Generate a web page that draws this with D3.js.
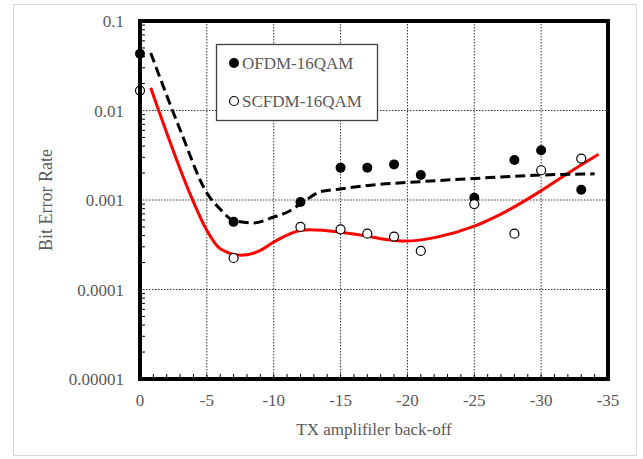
<!DOCTYPE html>
<html>
<head>
<meta charset="utf-8">
<script src="https://cdn.jsdelivr.net/npm/d3@7"></script>
<style>
  body { margin: 0; background: #fff; }
  text { font-family: "Liberation Serif", "Times New Roman", serif; }
</style>
</head>
<body>
<script>
// measured points (TX back-off, BER)
const backoff = [0, -7, -12, -15, -17, -19, -21, -25, -28, -30, -33];
const berOfdm = [0.043, 0.00057, 0.00095, 0.0023, 0.0023, 0.0025, 0.0019, 0.00106, 0.0028, 0.0036, 0.0013];
const berScfdm = [0.0167, 0.000225, 0.0005, 0.00047, 0.00042, 0.00039, 0.00027, 0.0009, 0.00042, 0.00215, 0.0029];

// trend lines
const ofdmTrendX = [-0.8, -3, -5, -6, -7, -8.5, -10, -11, -12, -13.5, -15, -18, -20, -25, -30, -34];
const ofdmTrendY = [0.044, 0.0061, 0.0012, 0.00079, 0.00059, 0.000555, 0.000645, 0.00073, 0.0009, 0.00124, 0.00133, 0.0015, 0.00157, 0.00174, 0.0019, 0.00196];
const scfdmTrendX = [-0.8, -1.4, -3.9, -5, -6, -7.6, -9, -10, -12, -12.7, -15, -17, -18, -19.9, -22.2, -25, -27.1, -29.9, -32.1, -34.3];
const scfdmTrendY = [0.0179, 0.01, 0.00103, 0.000457, 0.000286, 0.000241, 0.000273, 0.000339, 0.000457, 0.000465, 0.000437, 0.000395, 0.00037, 0.000348, 0.000385, 0.00051, 0.00071, 0.00124, 0.00203, 0.00324];

// axis ticks
const xTicks = [0, -5, -10, -15, -20, -25, -30, -35];
const yTicks = [0.1, 0.01, 0.001, 0.0001, 0.00001];
const yTickLabels = ["0.1", "0.01", "0.001", "0.0001", "0.00001"];
const legendLabels = ["OFDM-16QAM", "SCFDM-16QAM"];

var width = 643, height = 459;
var plotLeft = 140, plotRight = 608, plotTop = 21, plotBottom = 379;
var textGray = "#595959";

var svg = d3.select("body").append("svg")
    .attr("width", width)
    .attr("height", height);

// outer frame
svg.append("rect")
  .attr("x", 13.5).attr("y", 4.5)
  .attr("width", 623).attr("height", 451)
  .attr("fill", "#fff")
  .attr("stroke", "#d9d9d9");

var x = d3.scaleLinear().domain([0, -35]).range([plotLeft, plotRight]);
var y = d3.scaleLog().domain([1e-5, 0.1]).range([plotBottom, plotTop]);

// grid lines (dotted)
svg.append("g").selectAll("line")
  .data(xTicks.slice(1, -1))
  .enter().append("line")
  .attr("x1", d => x(d)).attr("x2", d => x(d))
  .attr("y1", plotTop).attr("y2", plotBottom)
  .attr("stroke", "#333").attr("stroke-width", 1)
  .attr("stroke-dasharray", "1.5,1.5");

svg.append("g").selectAll("line")
  .data(yTicks.slice(1, -1))
  .enter().append("line")
  .attr("x1", plotLeft).attr("x2", plotRight)
  .attr("y1", d => y(d)).attr("y2", d => y(d))
  .attr("stroke", "#333").attr("stroke-width", 1)
  .attr("stroke-dasharray", "1.5,1.5");

// minor ticks on y axis (inside)
var yMinor = [];
yTicks.slice(1).forEach(function(d) {
  for (let k = 2; k <= 9; k++) yMinor.push(d * k);
});
svg.append("g").selectAll("line")
  .data(yMinor)
  .enter().append("line")
  .attr("x1", plotLeft).attr("x2", plotLeft + 5)
  .attr("y1", d => y(d)).attr("y2", d => y(d))
  .attr("stroke", "#000").attr("stroke-width", 1);

// minor ticks on x axis (inside)
svg.append("g").selectAll("line")
  .data(d3.range(-1, -35, -1))
  .enter().append("line")
  .attr("x1", d => x(d)).attr("x2", d => x(d))
  .attr("y1", plotBottom).attr("y2", plotBottom - 5)
  .attr("stroke", "#000").attr("stroke-width", 1);

// tick labels
svg.append("g").selectAll("text")
  .data(xTicks)
  .enter().append("text")
  .attr("x", d => x(d)).attr("y", 406)
  .attr("text-anchor", "middle")
  .attr("font-size", 17).attr("fill", textGray)
  .text(d => d);

svg.append("g").selectAll("text")
  .data(yTicks)
  .enter().append("text")
  .attr("x", 124).attr("y", d => y(d) + 6)
  .attr("text-anchor", "end")
  .attr("font-size", 17).attr("fill", textGray)
  .text((d, i) => yTickLabels[i]);

// axis titles
svg.append("text")
  .attr("x", 374).attr("y", 435)
  .attr("text-anchor", "middle")
  .attr("font-size", 17).attr("fill", textGray)
  .text("TX amplifiler back-off");

svg.append("text")
  .attr("transform", "translate(52,200) rotate(-90)")
  .attr("text-anchor", "middle")
  .attr("font-size", 18).attr("fill", textGray)
  .text("Bit Error Rate");

// trend lines
var line = d3.line()
  .x(d => x(d[0]))
  .y(d => y(d[1]))
  .curve(d3.curveMonotoneX);

svg.append("path")
  .datum(scfdmTrendX.map((v, i) => [v, scfdmTrendY[i]]))
  .attr("d", line)
  .attr("fill", "none")
  .attr("stroke", "#ff0000")
  .attr("stroke-width", 3);

svg.append("path")
  .datum(ofdmTrendX.map((v, i) => [v, ofdmTrendY[i]]))
  .attr("d", line)
  .attr("fill", "none")
  .attr("stroke", "#000")
  .attr("stroke-width", 3)
  .attr("stroke-dasharray", "10,5");

// markers
svg.append("g").selectAll("circle")
  .data(backoff)
  .enter().append("circle")
  .attr("cx", d => x(d))
  .attr("cy", (d, i) => y(berOfdm[i]))
  .attr("r", 5)
  .attr("fill", "#000");

svg.append("g").selectAll("circle")
  .data(backoff)
  .enter().append("circle")
  .attr("cx", d => x(d))
  .attr("cy", (d, i) => y(berScfdm[i]))
  .attr("r", 4.5)
  .attr("fill", "#fff")
  .attr("stroke", "#000")
  .attr("stroke-width", 1.2);

// plot frame
svg.append("rect")
  .attr("x", plotLeft).attr("y", plotTop)
  .attr("width", plotRight - plotLeft).attr("height", plotBottom - plotTop)
  .attr("fill", "none")
  .attr("stroke", "#000")
  .attr("stroke-width", 4);

// legend
var legend = svg.append("g");
legend.append("rect")
  .attr("x", 216.5).attr("y", 44.5)
  .attr("width", 161).attr("height", 76)
  .attr("fill", "#fff")
  .attr("stroke", "#404040")
  .attr("stroke-width", 1.3);

legendLabels.forEach(function(label, i) {
  var ly = 63 + i * 38;
  legend.append("circle")
    .attr("cx", 234).attr("cy", ly)
    .attr("r", i === 0 ? 5 : 4.5)
    .attr("fill", i === 0 ? "#000" : "#fff")
    .attr("stroke", "#000")
    .attr("stroke-width", i === 0 ? 0 : 1.2);
  legend.append("text")
    .attr("x", 242).attr("y", ly + 6)
    .attr("font-size", 17).attr("fill", textGray)
    .text(label);
});
</script>
</body>
</html>
